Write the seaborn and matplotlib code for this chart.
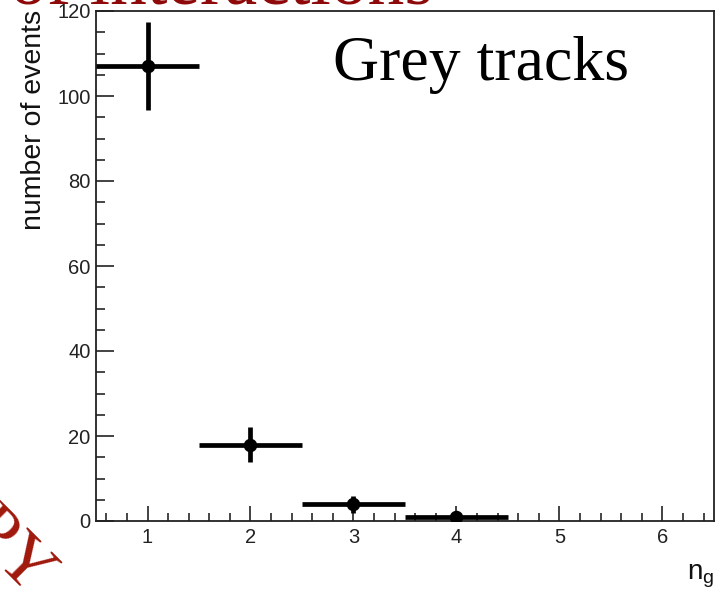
import matplotlib
matplotlib.use("Agg")
import matplotlib.pyplot as plt
from matplotlib.ticker import MultipleLocator
import seaborn as sns
import pandas as pd

# grey-track multiplicity histogram
n_g = [1, 2, 3, 4]
counts = [107, 18, 4, 1]
count_err = [10.3, 4.2, 2.0, 1.0]
bin_halfwidth = [0.5, 0.5, 0.5, 0.5]

y_ticks = [0, 20, 40, 60, 80, 100, 120]
x_ticks = [1, 2, 3, 4, 5, 6]

df = pd.DataFrame({"n_g": n_g, "counts": counts})

sns.set_theme(style="white")
plt.rcParams["font.family"] = ["Liberation Sans", "DejaVu Sans"]

fig = plt.figure(figsize=(7.2, 5.91), dpi=100)
ax = fig.add_axes([96 / 720, 1 - 521 / 591, (714 - 96) / 720, (521 - 11) / 591])

ax.errorbar(df["n_g"], df["counts"], xerr=bin_halfwidth, yerr=count_err,
            fmt="none", ecolor="black", elinewidth=3.4, capsize=0, zorder=3)
sns.scatterplot(data=df, x="n_g", y="counts", ax=ax, color="black",
                s=95, edgecolor="black", linewidth=0, zorder=4, legend=False)

ax.set_xlim(0.5, 6.5)
ax.set_ylim(0, 120)
ax.set_xticks(x_ticks)
ax.set_yticks(y_ticks)
ax.xaxis.set_minor_locator(MultipleLocator(0.2))
ax.yaxis.set_minor_locator(MultipleLocator(5))

ax.tick_params(axis="y", which="major", direction="in", length=13, width=1.2,
               labelsize=14.5, pad=4, colors="#222", left=True, right=False)
ax.tick_params(axis="y", which="minor", direction="in", length=6.5, width=1.2,
               left=True, right=False)
ax.tick_params(axis="x", which="major", direction="in", length=11, width=1.2,
               labelsize=14.5, pad=5, colors="#222", bottom=True, top=False)
ax.tick_params(axis="x", which="minor", direction="in", length=5.5, width=1.2,
               bottom=True, top=False)

for sp in ax.spines.values():
    sp.set_color("#222")
    sp.set_linewidth(1.3)

ax.set_xlabel("")
ax.set_ylabel("")
fig.text(47 / 720, 1 - 10 / 591, "number of events", rotation=90,
         ha="right", va="top", fontsize=20.5, color="#111")
fig.text(714 / 720, 1 - 562 / 591, r"n$_\mathregular{g}$",
         ha="right", va="top", fontsize=20, color="#111")

fig.text(333 / 720, 1 - 80 / 591, "Grey tracks", ha="left", va="baseline",
         fontsize=46, family=["Liberation Serif", "DejaVu Serif"],
         color="black")

# slide overlays in dark red
fig.text(10 / 720, 1 - 3 / 591, "of interactions", ha="left", va="baseline",
         fontsize=53, family=["Liberation Serif", "DejaVu Serif"],
         color="#8e0a0a")
fig.text(-108 / 720, 1 - 463 / 591, "COPY", ha="left", va="baseline",
         rotation=-45, rotation_mode="anchor", fontsize=52,
         family=["Liberation Serif", "DejaVu Serif"], color="#a0180c")

fig.savefig("out.png", dpi=100)
